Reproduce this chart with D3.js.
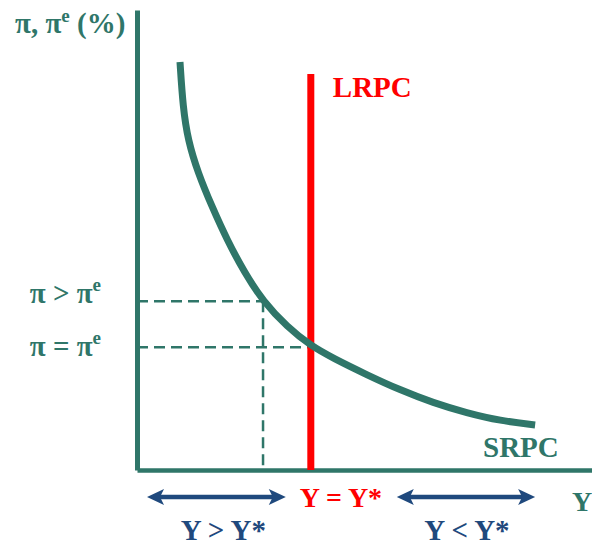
<!DOCTYPE html>
<html>
<head>
<meta charset="utf-8">
<script src="https://cdn.jsdelivr.net/npm/d3@7"></script>
<style>
  body { margin: 0; background: #fff; }
  text { font-family: "Liberation Serif", "Times New Roman", serif; font-weight: bold; }
</style>
</head>
<body>
<script>
// SRPC curve, in chart units (output on x, inflation on y)
var srpcX = [9.45, 10.1, 11.2, 13.4, 16.5, 19.8, 23.7, 27.7, 33.0, 38.2, 43.1, 50.5, 57.8, 65.1, 72.5, 79.8, 87.5];
var srpcY = [88.7, 78.9, 71.7, 64.6, 57.2, 50.0, 42.8, 36.7, 31.1, 27.0, 24.3, 20.7, 17.4, 14.6, 12.4, 10.7, 9.8];

// LRPC at natural output
var lrpcX = 38.2;
var lrpcTop = 86.1;

// inflation levels marked on the y axis
var levelNames = ["π > π", "π = π"];
var levelValues = [36.7, 26.7];
var levelOutput = [27.7, 38.2];

// output ranges shown under the x axis
var rangeNames = ["Y > Y*", "Y < Y*"];
var rangeFrom = [2.2, 57.1];
var rangeTo = [32.7, 87.5];

var teal = "#2f7669", red = "#ff0000", blue = "#1f497d";

var width = 592, height = 545;

var svg = d3.select("body").append("svg")
  .attr("width", width)
  .attr("height", height);

var x = d3.scaleLinear().domain([0, 100]).range([137, 592]);
var y = d3.scaleLinear().domain([0, 100]).range([470, 10]);

// axes, no ticks
svg.append("g")
  .attr("transform", "translate(0," + y(0) + ")")
  .call(d3.axisBottom(x).tickValues([]).tickSizeOuter(0))
  .select(".domain").attr("stroke", teal).attr("stroke-width", 4.5);

svg.append("g")
  .attr("transform", "translate(" + x(0) + ",0)")
  .call(d3.axisLeft(y).tickValues([]).tickSizeOuter(0))
  .select(".domain").attr("stroke", teal).attr("stroke-width", 5);

// dashed guides
levelValues.forEach(function (v, i) {
  svg.append("line")
    .attr("x1", x(0)).attr("x2", x(levelOutput[i]))
    .attr("y1", y(v)).attr("y2", y(v))
    .attr("stroke", teal).attr("stroke-width", 2.5)
    .style("stroke-dasharray", "11,6");
});
svg.append("line")
  .attr("x1", x(levelOutput[0])).attr("x2", x(levelOutput[0]))
  .attr("y1", y(levelValues[0])).attr("y2", y(0))
  .attr("stroke", teal).attr("stroke-width", 2.5)
  .style("stroke-dasharray", "11,6");

// LRPC
svg.append("line")
  .attr("x1", x(lrpcX)).attr("x2", x(lrpcX))
  .attr("y1", y(0)).attr("y2", y(lrpcTop))
  .attr("stroke", red).attr("stroke-width", 7);

// SRPC
var line = d3.line()
  .x(function (d) { return x(d[0]); })
  .y(function (d) { return y(d[1]); })
  .curve(d3.curveBasis);

svg.append("path")
  .datum(d3.zip(srpcX, srpcY))
  .attr("d", line)
  .attr("fill", "none")
  .attr("stroke", teal)
  .attr("stroke-width", 7);

// labels
svg.append("text").attr("x", x(lrpcX) + 22).attr("y", y(lrpcTop) + 23)
  .attr("fill", red).style("font-size", "29px").text("LRPC");

svg.append("text").attr("x", 483).attr("y", 457)
  .attr("fill", teal).style("font-size", "29px").text("SRPC");

var title = svg.append("text").attr("x", 15).attr("y", 33)
  .attr("fill", teal).style("font-size", "29px");
title.append("tspan").text("π, π");
title.append("tspan").attr("dy", -11).style("font-size", "19px").text("e");
title.append("tspan").attr("dy", 11).text(" (%)");

var labelDy = [2, 9];
levelNames.forEach(function (t, i) {
  var lab = svg.append("text")
    .attr("x", 101).attr("y", y(levelValues[i]) + labelDy[i])
    .attr("text-anchor", "end")
    .attr("fill", teal).style("font-size", "29px");
  lab.append("tspan").text(t);
  lab.append("tspan").attr("dy", -12).style("font-size", "19px").text("e");
});

// range arrows
var arrowY = y(0) + 27;
function head(tipX, dir) {
  var L = 17, H = 8, N = 4;
  return "M" + tipX + "," + arrowY +
    "L" + (tipX + dir * L) + "," + (arrowY - H) +
    "L" + (tipX + dir * (L - N)) + "," + arrowY +
    "L" + (tipX + dir * L) + "," + (arrowY + H) + "Z";
}
rangeNames.forEach(function (t, i) {
  var a = x(rangeFrom[i]), b = x(rangeTo[i]);
  svg.append("line")
    .attr("x1", a + 10).attr("x2", b - 10)
    .attr("y1", arrowY).attr("y2", arrowY)
    .attr("stroke", blue).attr("stroke-width", 4.5);
  svg.append("path").attr("d", head(a, 1)).attr("fill", blue);
  svg.append("path").attr("d", head(b, -1)).attr("fill", blue);
  svg.append("text")
    .attr("x", (a + b) / 2 + (i === 0 ? 7 : 1)).attr("y", 540)
    .attr("text-anchor", "middle")
    .attr("fill", blue).style("font-size", "29px").text(t);
});

svg.append("text").attr("x", x(lrpcX) - 11).attr("y", 507)
  .attr("fill", red).style("font-size", "28px").text("Y = Y*");

svg.append("text").attr("x", 572).attr("y", 511)
  .attr("fill", teal).style("font-size", "28px").text("Y");
</script>
</body>
</html>
